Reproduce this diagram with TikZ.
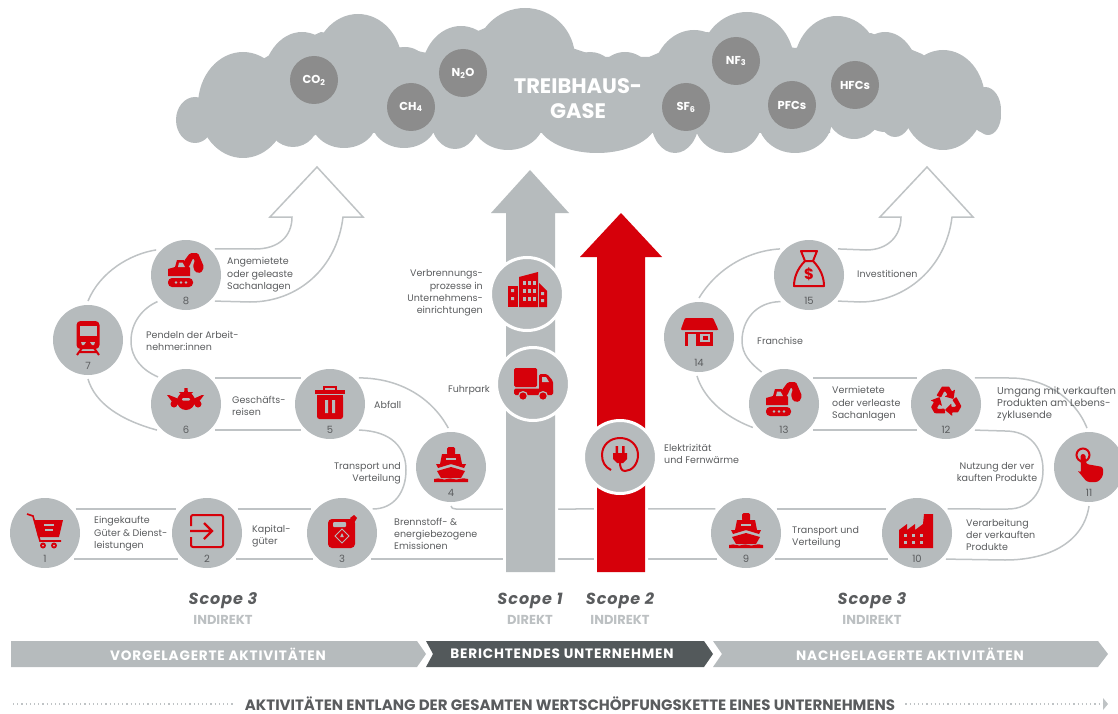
\documentclass[tikz,border=0pt]{standalone}
\usepackage{fontspec}
\setmainfont{Poppins}
\newfontfamily\wideface[LetterSpace=6]{Poppins}
\usetikzlibrary{positioning}
\definecolor{circlegray}{HTML}{B6BBBD}
\definecolor{linegray}{HTML}{BFC3C5}
\definecolor{gasgray}{HTML}{8C8C8C}
\definecolor{darkband}{HTML}{53595B}
\definecolor{textgray}{HTML}{5A5C5E}
\definecolor{subgray}{HTML}{BCC0C2}
\definecolor{iconred}{HTML}{D6000A}
\tikzset{
  scopecircle/.style={circle,fill=circlegray,minimum size=70pt,inner sep=0pt,outer sep=4pt},
  maincircle/.style={scopecircle,draw=white,line width=3pt,minimum size=73pt,outer sep=0pt},
  gascircle/.style={circle,fill=gasgray,text=white,minimum size=48pt,inner sep=0pt,font=\fontsize{11.5}{13}\selectfont\bfseries},
  numlabel/.style={text=textgray,font=\fontsize{10}{11}\selectfont,yshift=-26pt},
  ribbon/.style={draw=linegray,line width=1.5pt},
  ribbonhead/.style={ribbon,line join=miter,miter limit=10},
  steplabel/.style={text=textgray,inner sep=0pt,font=\fontsize{9.5}{12.4}\selectfont},
  leftlabel/.style={steplabel,anchor=west,align=left},
  rightlabel/.style={steplabel,anchor=east,align=right},
  scopehead/.style={text=textgray,font=\fontsize{16}{18}\wideface\bfseries\itshape},
  scopesub/.style={text=subgray,font=\fontsize{13}{15}\selectfont\bfseries},
  band/.style={text=white,font=\fontsize{13.6}{15}\wideface\bfseries},
  redfill/.style={fill=iconred},
  holefill/.style={fill=circlegray},
  redline/.style={draw=iconred,line width=2pt},
  holeline/.style={draw=circlegray,line width=1.3pt},
  pics/carticon/.style={code={
    \draw[redline,line width=1.6pt] (-18,-19) -- (-12,-17) -- (-5,8) -- (16,8);
    \fill[redfill] (-11,-13) -- (18,-13) -- (14,4) -- (-7,4) -- cycle;
    \draw[holeline] (-1,-8) -- (9,-8) (0,-3) -- (8,-3);
    \fill[redfill] (-2,12.5) circle[radius=3pt] (9,12.5) circle[radius=3pt];
    \fill[holefill] (-2,12.5) circle[radius=1pt] (9,12.5) circle[radius=1pt];
  }},
  pics/entericon/.style={code={
    \draw[redline,rounded corners=2pt] (-16,-7) -- (-16,-18) -- (16,-18) -- (16,14) -- (-16,14) -- (-16,4);
    \draw[redline,line width=2.2pt] (-17,-2) -- (5,-2) (-3,-10) -- (5,-2) -- (-3,6);
  }},
  pics/canicon/.style={code={
    \fill[redfill,rounded corners=4pt] (-14,-14) rectangle (13,15);
    \fill[redfill] (8,-15) -- (12,-18) -- (15,-15) -- (12,-10) -- cycle;
    \fill[holefill,rounded corners=1pt] (-9,-11) rectangle (4,-6);
    \draw[holeline,line width=.8pt] (0,-4) -- (7,3) -- (0,10) -- (-7,3) -- cycle;
    \fill[holefill] (0,0) -- (1.8,4) -- (-1.8,4) -- cycle;
  }},
  pics/shipicon/.style={code={
    \fill[redfill,rounded corners=1.5pt] (-4,-20) rectangle (4,-12);
    \fill[redfill] (-9,-13) -- (9,-13) -- (11,-3) -- (-11,-3) -- cycle;
    \fill[redfill] (-15,-3) -- (15,-3) -- (13,1) -- (0,-3) -- (-13,1) -- cycle;
    \draw[holeline] (-5,-8) -- (5,-8);
    \fill[redfill] (-14,4) -- (0,0) -- (14,4) -- (10,11) -- (-10,11) -- cycle;
    \fill[redfill] (-17,12) .. controls (-11,10) and (-7,14) .. (-4,12) .. controls (0,10) and (5,14) .. (8,12)
       .. controls (11,10) and (14,12) .. (17,12) -- (17,15) -- (-17,15) -- cycle;
  }},
  pics/binicon/.style={code={
    \draw[redline] (-6,-13) -- (-6,-17) -- (6,-17) -- (6,-13);
    \fill[redfill] (-15,-14) rectangle (15,-10);
    \fill[redfill,rounded corners=2.5pt] (-13,-9) rectangle (13,15);
    \fill[redfill] (-13,-9) rectangle (13,-4);
    \fill[holefill] (-5,-4) rectangle (-2,9) (2,-4) rectangle (5,9);
  }},
  pics/planeicon/.style={code={
    \fill[redfill] (-1.5,-16) -- (1.5,-16) -- (2,-10) -- (-2,-10) -- cycle;
    \fill[redfill] (-7,-12) -- (7,-12) -- (3,-8) -- (-3,-8) -- cycle;
    \fill[redfill] (0,-3) ellipse[x radius=9pt,y radius=9pt];
    \fill[redfill] (-19,-9) -- (-17,-9) -- (-7,-5) -- (-7,1) -- (-13,-1) -- cycle;
    \fill[redfill] (18,-9) -- (16,-9) -- (7,-5) -- (7,1) -- (12,-1) -- cycle;
    \fill[redfill] (-12,0) circle[radius=3.5pt] (12,0) circle[radius=3.5pt];
    \fill[holefill,rounded corners=1pt] (-4,-6) rectangle (4,-3.5);
  }},
  pics/trainicon/.style={code={
    \draw[redline] (-6,8) -- (-11,15) (6,8) -- (11,15) (-8,12) -- (8,12);
    \fill[redfill,rounded corners=4pt] (-11.5,-19) rectangle (11.5,9);
    \fill[holefill] (-8.5,-14) rectangle (8.5,-4);
    \fill[holefill] (-7,2) -- (-2,2) -- (-4,5) -- (-6,5) -- cycle (7,2) -- (2,2) -- (4,5) -- (6,5) -- cycle;
  }},
  pics/diggericon/.style={code={
    \fill[redfill,rounded corners=4pt] (-18,3) rectangle (7,12);
    \fill[holefill] (-10,7.5) circle[radius=1.3pt] (-5,7.5) circle[radius=1.3pt] (0,7.5) circle[radius=1.3pt];
    \fill[redfill] (-18,1) -- (-18,-6) -- (-11,-8) -- (-9,-15) -- (-2,-15) -- (4,-7) -- (4,1) -- cycle;
    \fill[holefill] (-7,-12.5) -- (-3.5,-12.5) -- (-1,-8) -- (-8,-8) -- cycle;
    \fill[redfill,rounded corners=1.5pt] (-2,-14) -- (4,-22) -- (12,-22) -- (18,-8) -- (15,-2) -- (9,-3) -- (7,-9) -- (9,-15) -- (7,-17) -- (3,-8) -- cycle;
  }},
  pics/officeicon/.style={code={
    \fill[redfill] (-8,-17) -- (11,-22) -- (11,13) -- (-8,13) -- cycle;
    \fill[redfill] (-19,-8) -- (-9,-8) -- (-9,13) -- (-19,13) -- cycle;
    \fill[redfill] (12,-11) -- (20,-3) -- (20,13) -- (12,13) -- cycle;
    \foreach \wx in {-4,1,6} \foreach \wy in {-13,-5,3}
      \fill[holefill] (\wx,\wy) rectangle ++(3,3.5);
    \fill[holefill] (-16,-5) rectangle ++(3,3) (-16,3) rectangle ++(3,3);
    \fill[holefill] (14,-2) rectangle ++(3,3) (14,5) rectangle ++(3,3);
  }},
  pics/truckicon/.style={code={
    \fill[redfill,rounded corners=1.5pt] (-19,-16) rectangle (4,3);
    \fill[redfill,rounded corners=1.5pt] (6,-10) -- (14,-10) -- (20,-3) -- (20,10) -- (6,10) -- cycle;
    \fill[redfill,rounded corners=1.5pt] (-19,4.5) rectangle (20,11);
    \fill[holefill] (9,-7) -- (13,-7) -- (16,-2) -- (9,-2) -- cycle;
    \fill[circlegray] (-10,12) circle[radius=5pt] (10,12) circle[radius=5pt];
    \fill[redfill] (-10,12) circle[radius=3.6pt] (10,12) circle[radius=3.6pt];
  }},
  pics/plugicon/.style={code={
    \draw[redline] (-9,13) .. controls (-15,10) and (-18,5) .. (-18,-2) .. controls (-18,-12) and (-10,-19) .. (0,-19)
       .. controls (10,-19) and (18,-12) .. (18,-2) .. controls (18,7) and (12,14) .. (5,14) .. controls (1,14) and (0,10) .. (0,5);
    \fill[redfill] (-7,-4) -- (7,-4) -- (7,2) -- (3,6) -- (-3,6) -- (-7,2) -- cycle;
    \fill[redfill] (-4.5,-11) rectangle (-2,-4) (2,-11) rectangle (4.5,-4);
  }},
  pics/factoryicon/.style={code={
    \fill[redfill] (-18,15) -- (-18,-3) -- (-10,-9) -- (-10,-3) -- (-2,-9) -- (-2,-3) -- (6,-9) -- (7,-19) -- (16,-19) -- (16,15) -- cycle;
    \foreach \wx in {-13,-5,3} \foreach \wy in {1,8}
      \fill[holefill] (\wx,\wy) rectangle ++(3,3);
  }},
  pics/handicon/.style={code={
    \draw[redline] (-6,-12) circle[radius=6.5pt];
    \fill[redfill,rounded corners=2.5pt] (-12,3) -- (-8,6) -- (-8.5,-13) -- (-3.5,-13) -- (-3,-3) -- (14,0) -- (14,9) -- (9,15) -- (-2,15) -- cycle;
  }},
  pics/recycleicon/.style={code={
    \foreach \spin in {0,120,240} {
      \begin{scope}[rotate around={\spin:(0,-2)}]
        \fill[redfill,rounded corners=.6pt] (-9.5,-8.5) -- (-4,-17.5) -- (3,-17.5) -- (6,-12.5) -- (9,-14.5) -- (7.5,-5) -- (-1.5,-7.5) -- (1.5,-9) -- (-.5,-12.5) -- (-2,-12.5) -- (-5,-6.5) -- cycle;
      \end{scope}
    }
  }},
  pics/shopicon/.style={code={
    \fill[redfill,rounded corners=1pt] (-14,-19) -- (14,-19) -- (19,-8) -- (19,-7) -- (-18,-7) -- (-18,-8) -- cycle;
    \fill[redfill] (-14,-5) rectangle (14,9);
    \fill[holefill] (-11,-3) rectangle (-3,9);
    \fill[holefill] (1,-3) rectangle (11,5);
    \fill[redfill] (4,-1) rectangle (9,3);
  }},
  pics/bagicon/.style={code={
    \draw[redline,line join=round] (-8,-24) -- (8,-24) -- (4,-14) -- (-4,-14) -- cycle;
    \draw[redline,line join=round] (-4,-14) .. controls (-12,-6) and (-15,3) .. (-15,11) -- (15,11) .. controls (15,3) and (12,-6) .. (4,-14);
    \node[text=iconred,inner sep=0pt,font=\fontsize{15}{16}\selectfont\bfseries] (dollar) at (0,-1) {\$};
  }},
}
\begin{document}
\begin{tikzpicture}[x=1pt,y=-1pt,node distance=19pt,on grid]
  \useasboundingbox (0,0) rectangle (1118,714);

  % cloud
  \foreach \cx/\cy/\rx/\ry in {195/120/19/23,243/105/45/53,302/85/40/53,358/64/44/50,405/85/30/38,461/75/40/49,
      525/58/50/50,590/75/25/23,625/85/30/33,694/80/42/50,747/62/47/50,837/66/43/50,885/82/35/50,943/100/42/50,988/115/13/20,
      241/120/32/27,293/120/26/27,344/120/33/28,404/120/33/28,455/120/24/29,508/120/36/30,597/120/60/33,675/120/24/33,
      728/120/34/33,795/120/37/33,854/110/28/29,895/110/18/27,940/110/32/27,985/110/16/23}
    \fill[circlegray] (\cx,\cy) ellipse[x radius=\rx pt,y radius=\ry pt];
  \fill[circlegray] (196,100) -- (268,56) -- (321,32) -- (403,48) -- (427,53) -- (485,28) -- (572,48) -- (599,57) -- (649,57)
     -- (707,32) -- (795,48) -- (871,33) -- (922,54) -- (985,100) -- (985,122) -- (830,122) -- (830,133) -- (205,133) -- cycle;

  \node[gascircle] (co2) at (314,80) {CO\textsubscript{2}};
  \node[gascircle] (ch4) at (411,107) {CH\textsubscript{4}};
  \node[gascircle] (n2o) at (463,73) {N\textsubscript{2}O};
  \node[gascircle] (sf6) at (686,107) {SF\textsubscript{6}};
  \node[gascircle] (nf3) at (736,61) {NF\textsubscript{3}};
  \node[gascircle] (pfcs) at (792,105) {PFCs};
  \node[gascircle] (hfcs) at (855,85) {HFCs};
  \node[text=white,align=center,font=\fontsize{21}{25}\selectfont\bfseries] (gases) at (578,99) {TREIBHAUS-\\GASE};

  % steps, upstream and downstream
  \node[scopecircle,label={[numlabel]center:1}] (n1) at (45,533) {};
  \node[scopecircle,label={[numlabel]center:2}] (n2) at (207,533) {};
  \node[scopecircle,label={[numlabel]center:3}] (n3) at (342,533) {};
  \node[scopecircle,label={[numlabel]center:4}] (n4) at (451,467) {};
  \node[scopecircle,label={[numlabel]center:5}] (n5) at (330,404) {};
  \node[scopecircle,label={[numlabel]center:6}] (n6) at (186,404) {};
  \node[scopecircle,label={[numlabel]center:7}] (n7) at (88,340) {};
  \node[scopecircle,label={[numlabel]center:8}] (n8) at (186,275) {};
  \node[scopecircle,label={[numlabel]center:9}] (n9) at (746,533) {};
  \node[scopecircle,label={[numlabel]center:10}] (n10) at (917,533) {};
  \node[scopecircle,label={[numlabel]center:11}] (n11) at (1089,467) {};
  \node[scopecircle,label={[numlabel]center:12}] (n12) at (946,404) {};
  \node[scopecircle,label={[numlabel]center:13}] (n13) at (784,404) {};
  \node[scopecircle,label={[numlabel]center:14}] (n14) at (699,337) {};
  \node[scopecircle,label={[numlabel]center:15}] (n15) at (809,275) {};

  % ribbon on the left
  \draw[ribbon] (n1.38) -- (n2.142) (n1.-42) -- (n2.-138);
  \draw[ribbon] (n2.38) -- (n3.142) (n2.-42) -- (n3.-138);
  \draw[ribbon] (n3.38) .. controls (394,509) and (406,492) .. (406,470) .. controls (406,448) and (392,431) .. (n5.-42);
  \draw[ribbon] (n4.94) .. controls (432,398) and (400,378) .. (n5.42);
  \draw[ribbon] (n6.42) -- (n5.138) (n6.-42) -- (n5.-138);
  \draw[ribbon] (n6.136) .. controls (142,370) and (131,358) .. (131,341) .. controls (131,322) and (143,308) .. (n8.-137);
  \draw[ribbon] (n6.-138) .. controls (120,420) and (95,403) .. (n7.-90);
  \draw[ribbon] (n7.90) .. controls (100,272) and (130,254) .. (n8.140);
  \coordinate (up1) at (292,217);
  \coordinate (up2) at (270,217);
  \coordinate (up3) at (317,167);
  \coordinate (up4) at (363,217);
  \coordinate (up5) at (343,217);
  \draw[ribbonhead] (n8.42) -- (255,249) .. controls (279,249) and (292,236) .. (up1) -- (up2) -- (up3) -- (up4) -- (up5)
     .. controls (337,268) and (298,302) .. (250,302) -- (n8.-42);

  % ribbon through the company
  \coordinate (joint4) at (456,509);
  \draw[ribbon] (n9.142) -- (joint4) .. controls (453,509) and (451,508) .. (n4.south);
  \draw[ribbon] (n3.-42) -- (n9.-138);

  % ribbon on the right
  \draw[ribbon] (n9.38) -- (n10.142) (n9.-42) -- (n10.-138);
  \draw[ribbon] (n10.38) -- (1008,509) .. controls (1030,509) and (1043,492) .. (1043,470) .. controls (1043,448) and (1030,431) .. (1005,431) -- (n12.-42);
  \draw[ribbon] (n10.-42) -- (1005,560) .. controls (1052,560) and (1084,540) .. (n11.-90);
  \draw[ribbon] (n11.93) .. controls (1075,398) and (1045,378) .. (1010,378) -- (n12.42);
  \draw[ribbon] (n13.42) -- (n12.138) (n13.-42) -- (n12.-138);
  \draw[ribbon] (n13.-143) .. controls (722,416) and (703,396) .. (n14.-93);
  \draw[ribbon] (n13.125) .. controls (750,363) and (742,354) .. (742,341) .. controls (742,320) and (756,302) .. (n15.-137);
  \draw[ribbon] (n14.90) .. controls (716,270) and (746,251) .. (n15.138);
  \coordinate (down1) at (901,217);
  \coordinate (down2) at (880,217);
  \coordinate (down3) at (927,167);
  \coordinate (down4) at (973,217);
  \coordinate (down5) at (952,217);
  \draw[ribbonhead] (n15.42) -- (866,250) .. controls (888,250) and (901,236) .. (down1) -- (down2) -- (down3) -- (down4) -- (down5)
     .. controls (946,268) and (905,302) .. (860,302) -- (n15.-42);

  % the two big arrows
  \path[fill=circlegray,preaction={draw=white,line width=6pt}] (506,572) -- (506,213) -- (491,213) -- (530,170) -- (569,213) -- (555,213) -- (555,572) -- cycle;
  \path[fill=iconred,preaction={draw=white,line width=6pt}] (597,572) -- (597,257) -- (580,257) -- (621,213) -- (662,257) -- (645,257) -- (645,572) -- cycle;
  \node[maincircle] (office) at (527,294) {};
  \node[maincircle] (truck) at (533,384) {};
  \node[maincircle] (plug) at (620,457) {};

  % icons
  \pic at (n1) {carticon};
  \pic at (n2) {entericon};
  \pic at (n3) {canicon};
  \pic at (n4) {shipicon};
  \pic at (n5) {binicon};
  \pic at (n6) {planeicon};
  \pic at (n7) {trainicon};
  \pic at (n8) {diggericon};
  \pic at (n9) {shipicon};
  \pic at (n10) {factoryicon};
  \pic at (n11) {handicon};
  \pic at (n12) {recycleicon};
  \pic at (n13) {diggericon};
  \pic at (n14) {shopicon};
  \pic at (n15) {bagicon};
  \pic at (office) {officeicon};
  \pic at (truck) {truckicon};
  \pic at (plug) {plugicon};

  % labels
  \node[leftlabel] (t1) at (94,534) {Eingekaufte\\Güter \& Dienst-\\leistungen};
  \node[leftlabel] (t2) at (252,536) {Kapital-\\güter};
  \node[leftlabel] (t3) at (394,534) {Brennstoff- \&\\energiebezogene\\Emissionen};
  \node[rightlabel] (t4) at (401,473) {Transport und\\Verteilung};
  \node[leftlabel] (t5) at (374,405) {Abfall};
  \node[leftlabel] (t6) at (232,406) {Geschäfts-\\reisen};
  \node[leftlabel] (t7) at (146,341) {Pendeln der Arbeit-\\nehmer:innen};
  \node[leftlabel] (t8) at (227,275) {Angemietete\\oder geleaste\\Sachanlagen};
  \node[rightlabel] (t9) at (483,293) {Verbrennungs-\\prozesse in\\Unternehmens-\\einrichtungen};
  \node[rightlabel] (t10) at (490,390) {Fuhrpark};
  \node[leftlabel] (t11) at (664,454) {Elektrizität\\und Fernwärme};
  \node[leftlabel] (t12) at (792,537) {Transport und\\Verteilung};
  \node[leftlabel] (t13) at (966,535) {Verarbeitung\\der verkauften\\Produkte};
  \node[steplabel,align=center] (t14) at (997,472) {Nutzung der ver\\kauften Produkte};
  \node[leftlabel,font=\fontsize{10}{12.4}\selectfont] (t15) at (997,404) {Umgang mit verkauften\\Produkten am Lebens-\\zyklusende};
  \node[leftlabel] (t16) at (832,404) {Vermietete\\oder verleaste\\Sachanlagen};
  \node[leftlabel] (t17) at (757,341) {Franchise};
  \node[leftlabel] (t18) at (857,274) {Investitionen};

  % scopes
  \node[scopehead] (scope3a) at (223,601) {Scope 3};
  \node[scopesub,below=of scope3a] (sub3a) {INDIREKT};
  \node[scopehead] (scope1) at (530,601) {Scope 1};
  \node[scopesub,below=of scope1] (sub1) {DIREKT};
  \node[scopehead] (scope2) at (620,601) {Scope 2};
  \node[scopesub,below=of scope2] (sub2) {INDIREKT};
  \node[scopehead] (scope3b) at (872,601) {Scope 3};
  \node[scopesub,below=of scope3b] (sub3b) {INDIREKT};

  % bands
  \fill[circlegray] (11,641) -- (417,641) -- (426,654) -- (417,667) -- (11,667) -- cycle;
  \fill[darkband] (426,641) -- (704,641) -- (713,654) -- (704,667) -- (426,667) -- (433,654) -- cycle;
  \fill[circlegray] (713,641) -- (1098,641) -- (1108,654) -- (1098,667) -- (713,667) -- (722,654) -- cycle;
  \node[band] (upstream) at (218,654) {VORGELAGERTE AKTIVITÄTEN};
  \node[band] (company) at (562,654) {BERICHTENDES UNTERNEHMEN};
  \node[band] (downstream) at (910,654) {NACHGELAGERTE AKTIVITÄTEN};

  % chain line
  \node[text=textgray,inner sep=0pt,font=\fontsize{15}{17}\selectfont\bfseries] (chain) at (570,704) {AKTIVITÄTEN ENTLANG DER GESAMTEN WERTSCHÖPFUNGSKETTE EINES UNTERNEHMENS};
  \coordinate (chainstart) at (13,704);
  \coordinate (chainend) at (1104,704);
  \draw[linegray,line width=1.2pt,dash pattern=on 1.2pt off 3pt] (chainstart) -- ([xshift=-10pt]chain.west);
  \draw[linegray,line width=1.2pt,dash pattern=on 1.2pt off 3pt] ([xshift=10pt]chain.east) -- (chainend);
  \fill[linegray] (1103,698) -- (1108,704) -- (1103,710) -- cycle;
\end{tikzpicture}
\end{document}
